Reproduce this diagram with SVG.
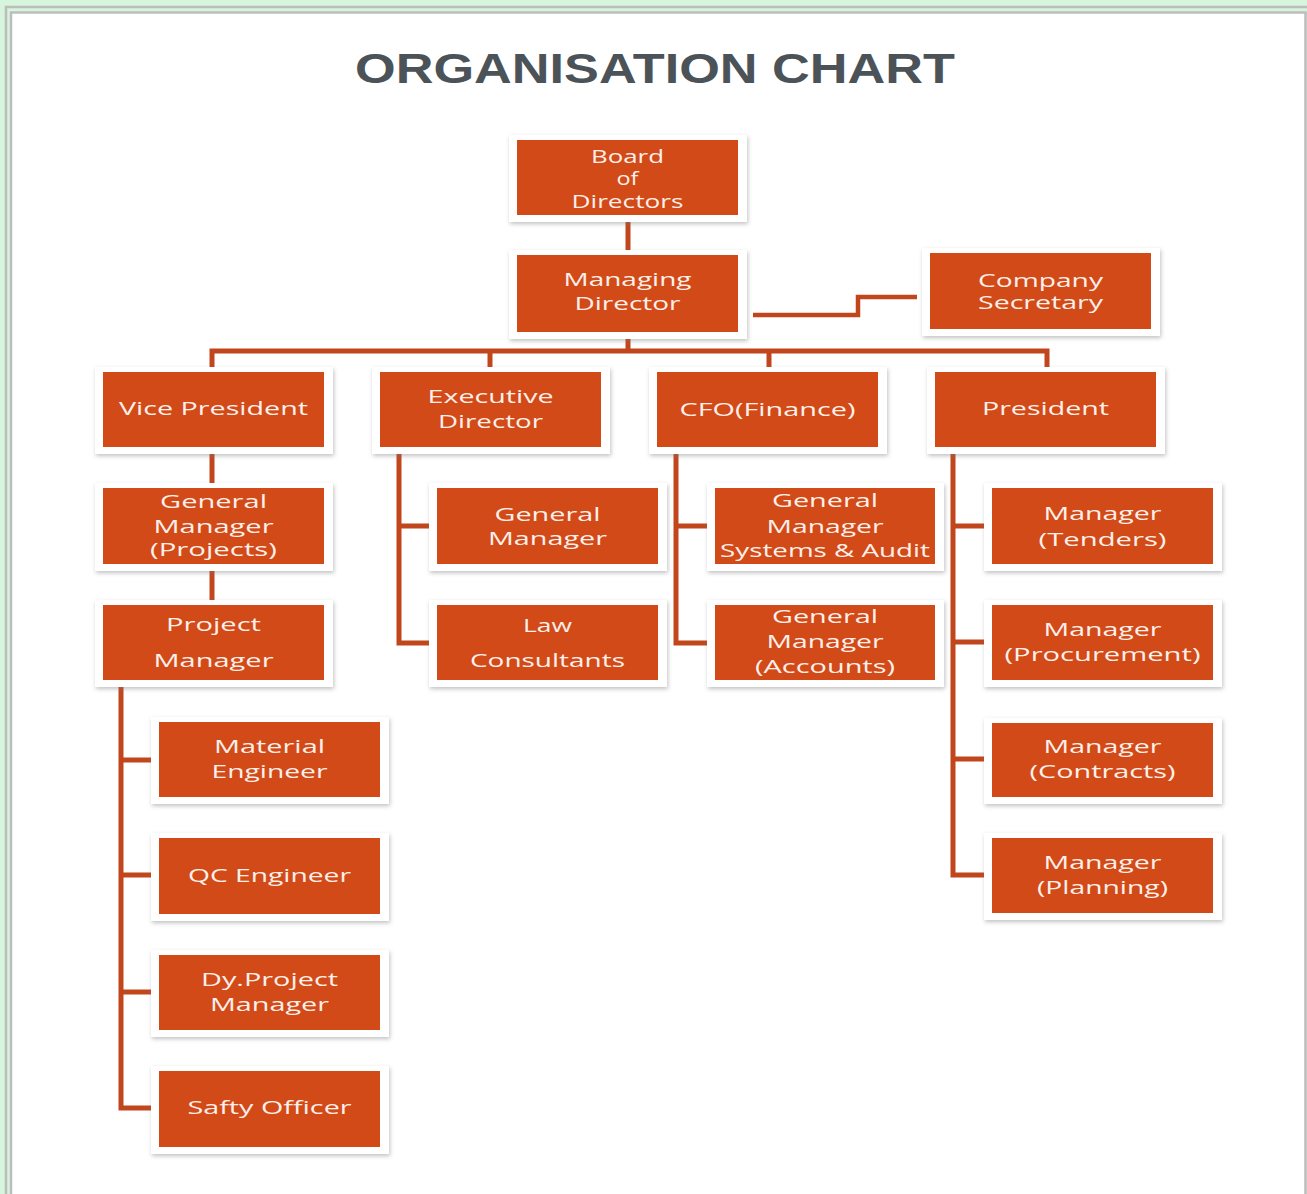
<svg xmlns="http://www.w3.org/2000/svg" width="1307" height="1194" viewBox="0 0 1307 1194">
<defs>
<filter id="sh" x="-10%" y="-20%" width="120%" height="150%">
<feDropShadow dx="1" dy="2" stdDeviation="2" flood-color="#777" flood-opacity="0.45"/>
</filter>
<style>
.fr{fill:#ffffff;filter:url(#sh)}
.bx{fill:#d24a18}
.t{font-family:"Open Sans","Liberation Sans",sans-serif;font-size:19px;fill:#fdf0ea}
.c{fill:none;stroke:#c2461c;stroke-width:5}
.title{font-family:"Liberation Sans",Arial,sans-serif;font-weight:bold;font-size:42px;fill:#4b5358}
</style>
</defs>
<rect x="0" y="0" width="1307" height="1194" fill="#d7f5dd"/>
<path d="M6,1194 V7 H1307" fill="none" stroke="#bdbdbd" stroke-width="2.5"/>
<rect x="11" y="12.5" width="1295" height="1182" fill="#ffffff"/>
<path d="M11,1194 V12.5 H1305.5 V1194" fill="none" stroke="#bdbdbd" stroke-width="2.5"/>
<text class="title" x="355" y="83" textLength="600" lengthAdjust="spacingAndGlyphs">ORGANISATION CHART</text>

<g id="connectors">
<path class="c" d="M628,215 V255"/>
<path class="c" d="M628,332 V352"/>
<path class="c" d="M212,372 V351 H1047 V372"/>
<path class="c" d="M490,351 V372"/>
<path class="c" d="M769,351 V372"/>
<path class="c" style="stroke-width:4.5" d="M753,315 H858 V297 H917"/>
<path class="c" d="M212,447 V488"/>
<path class="c" d="M212,564 V605"/>
<path class="c" d="M121,680 V1108 H159"/>
<path class="c" d="M121,760 H159 M121,875 H159 M121,992 H159"/>
<path class="c" d="M399,447 V643 H437 M399,526 H437"/>
<path class="c" d="M676,447 V643 H715 M676,526 H715"/>
<path class="c" d="M953,447 V875 H992 M953,526 H992 M953,642 H992 M953,759 H992"/>
</g>

<g id="board">
<rect class="fr" x="509" y="135" width="238" height="87"/>
<rect class="bx" x="517" y="140" width="221" height="75"/>
<text class="t" x="591" y="163" textLength="73" lengthAdjust="spacingAndGlyphs">Board</text>
<text class="t" x="616.5" y="185" textLength="22" lengthAdjust="spacingAndGlyphs">of</text>
<text class="t" x="571.5" y="208" textLength="112" lengthAdjust="spacingAndGlyphs">Directors</text>
</g>
<g id="md">
<rect class="fr" x="509" y="250" width="238" height="89"/>
<rect class="bx" x="517" y="255" width="221" height="77"/>
<text class="t" x="563.5" y="286" textLength="128" lengthAdjust="spacingAndGlyphs">Managing</text>
<text class="t" x="574.5" y="310" textLength="106" lengthAdjust="spacingAndGlyphs">Director</text>
</g>
<g id="cs">
<rect class="fr" x="922" y="248" width="238" height="88"/>
<rect class="bx" x="930" y="253" width="221" height="76"/>
<text class="t" x="978" y="287" textLength="125" lengthAdjust="spacingAndGlyphs">Company</text>
<text class="t" x="978" y="309" textLength="125" lengthAdjust="spacingAndGlyphs">Secretary</text>
</g>
<g id="vp">
<rect class="fr" x="95" y="367" width="238" height="87"/>
<rect class="bx" x="103" y="372" width="221" height="75"/>
<text class="t" x="119" y="415" textLength="189" lengthAdjust="spacingAndGlyphs">Vice President</text>
</g>
<g id="ed">
<rect class="fr" x="372" y="367" width="238" height="87"/>
<rect class="bx" x="380" y="372" width="221" height="75"/>
<text class="t" x="427.5" y="403" textLength="126" lengthAdjust="spacingAndGlyphs">Executive</text>
<text class="t" x="438" y="428" textLength="105" lengthAdjust="spacingAndGlyphs">Director</text>
</g>
<g id="cfo">
<rect class="fr" x="649" y="367" width="238" height="87"/>
<rect class="bx" x="657" y="372" width="221" height="75"/>
<text class="t" x="679.5" y="416" textLength="176" lengthAdjust="spacingAndGlyphs">CFO(Finance)</text>
</g>
<g id="president">
<rect class="fr" x="927" y="367" width="238" height="87"/>
<rect class="bx" x="935" y="372" width="221" height="75"/>
<text class="t" x="982" y="415" textLength="127" lengthAdjust="spacingAndGlyphs">President</text>
</g>
<g id="gm-projects">
<rect class="fr" x="95" y="483" width="238" height="88"/>
<rect class="bx" x="103" y="488" width="221" height="76"/>
<text class="t" x="160" y="508" textLength="107" lengthAdjust="spacingAndGlyphs">General</text>
<text class="t" x="153.5" y="533" textLength="120" lengthAdjust="spacingAndGlyphs">Manager</text>
<text class="t" x="150" y="556" textLength="127" lengthAdjust="spacingAndGlyphs">(Projects)</text>
</g>
<g id="pm">
<rect class="fr" x="95" y="600" width="238" height="87"/>
<rect class="bx" x="103" y="605" width="221" height="75"/>
<text class="t" x="166" y="631" textLength="95" lengthAdjust="spacingAndGlyphs">Project</text>
<text class="t" x="153.5" y="667" textLength="120" lengthAdjust="spacingAndGlyphs">Manager</text>
</g>
<g id="material">
<rect class="fr" x="151" y="717" width="238" height="87"/>
<rect class="bx" x="159" y="722" width="221" height="75"/>
<text class="t" x="214" y="753" textLength="111" lengthAdjust="spacingAndGlyphs">Material</text>
<text class="t" x="211.5" y="778" textLength="116" lengthAdjust="spacingAndGlyphs">Engineer</text>
</g>
<g id="qc">
<rect class="fr" x="151" y="833" width="238" height="88"/>
<rect class="bx" x="159" y="838" width="221" height="76"/>
<text class="t" x="188" y="882" textLength="163" lengthAdjust="spacingAndGlyphs">QC Engineer</text>
</g>
<g id="dypm">
<rect class="fr" x="151" y="950" width="238" height="87"/>
<rect class="bx" x="159" y="955" width="221" height="75"/>
<text class="t" x="201" y="986" textLength="137" lengthAdjust="spacingAndGlyphs">Dy.Project</text>
<text class="t" x="210" y="1011" textLength="119" lengthAdjust="spacingAndGlyphs">Manager</text>
</g>
<g id="safety">
<rect class="fr" x="151" y="1066" width="238" height="88"/>
<rect class="bx" x="159" y="1071" width="221" height="76"/>
<text class="t" x="187.5" y="1114" textLength="164" lengthAdjust="spacingAndGlyphs">Safty Officer</text>
</g>
<g id="gm">
<rect class="fr" x="429" y="483" width="238" height="88"/>
<rect class="bx" x="437" y="488" width="221" height="76"/>
<text class="t" x="494.5" y="521" textLength="106" lengthAdjust="spacingAndGlyphs">General</text>
<text class="t" x="488" y="545" textLength="119" lengthAdjust="spacingAndGlyphs">Manager</text>
</g>
<g id="law">
<rect class="fr" x="429" y="600" width="238" height="87"/>
<rect class="bx" x="437" y="605" width="221" height="75"/>
<text class="t" x="523" y="632" textLength="49" lengthAdjust="spacingAndGlyphs">Law</text>
<text class="t" x="470" y="667" textLength="155" lengthAdjust="spacingAndGlyphs">Consultants</text>
</g>
<g id="gm-systems">
<rect class="fr" x="707" y="483" width="237" height="88"/>
<rect class="bx" x="715" y="488" width="220" height="76"/>
<text class="t" x="772" y="507" textLength="106" lengthAdjust="spacingAndGlyphs">General</text>
<text class="t" x="766.5" y="533" textLength="117" lengthAdjust="spacingAndGlyphs">Manager</text>
<text class="t" x="720" y="557" textLength="210" lengthAdjust="spacingAndGlyphs">Systems &amp; Audit</text>
</g>
<g id="gm-accounts">
<rect class="fr" x="707" y="600" width="237" height="87"/>
<rect class="bx" x="715" y="605" width="220" height="75"/>
<text class="t" x="772" y="623" textLength="106" lengthAdjust="spacingAndGlyphs">General</text>
<text class="t" x="766.5" y="648" textLength="117" lengthAdjust="spacingAndGlyphs">Manager</text>
<text class="t" x="755" y="673" textLength="140" lengthAdjust="spacingAndGlyphs">(Accounts)</text>
</g>
<g id="mgr-tenders">
<rect class="fr" x="984" y="483" width="238" height="88"/>
<rect class="bx" x="992" y="488" width="221" height="76"/>
<text class="t" x="1043.5" y="520" textLength="118" lengthAdjust="spacingAndGlyphs">Manager</text>
<text class="t" x="1038.5" y="546" textLength="128" lengthAdjust="spacingAndGlyphs">(Tenders)</text>
</g>
<g id="mgr-procurement">
<rect class="fr" x="984" y="600" width="238" height="87"/>
<rect class="bx" x="992" y="605" width="221" height="75"/>
<text class="t" x="1043.5" y="636" textLength="118" lengthAdjust="spacingAndGlyphs">Manager</text>
<text class="t" x="1004.5" y="661" textLength="196" lengthAdjust="spacingAndGlyphs">(Procurement)</text>
</g>
<g id="mgr-contracts">
<rect class="fr" x="984" y="718" width="238" height="86"/>
<rect class="bx" x="992" y="723" width="221" height="74"/>
<text class="t" x="1043.5" y="753" textLength="118" lengthAdjust="spacingAndGlyphs">Manager</text>
<text class="t" x="1029.5" y="778" textLength="146" lengthAdjust="spacingAndGlyphs">(Contracts)</text>
</g>
<g id="mgr-planning">
<rect class="fr" x="984" y="833" width="238" height="87"/>
<rect class="bx" x="992" y="838" width="221" height="75"/>
<text class="t" x="1043.5" y="869" textLength="118" lengthAdjust="spacingAndGlyphs">Manager</text>
<text class="t" x="1037" y="894" textLength="131" lengthAdjust="spacingAndGlyphs">(Planning)</text>
</g>
</svg>
